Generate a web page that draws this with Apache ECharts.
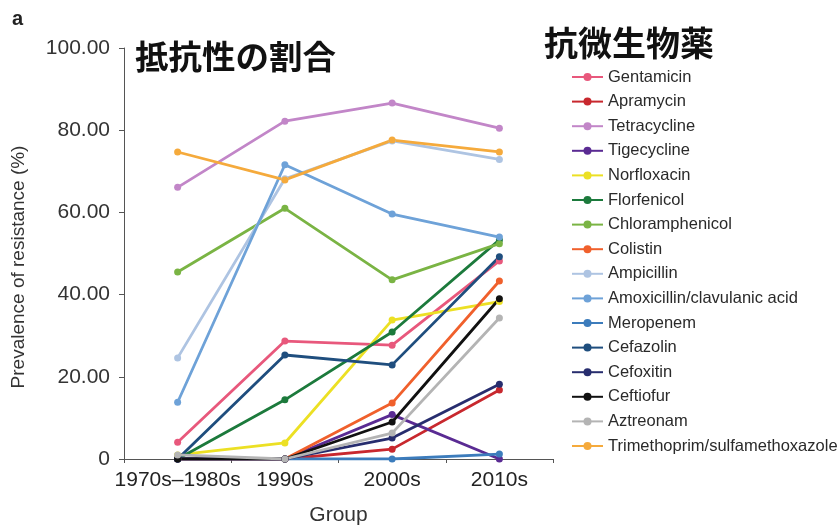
<!DOCTYPE html>
<html>
<head>
<meta charset="utf-8">
<script src="https://cdn.jsdelivr.net/npm/echarts@6/dist/echarts.min.js"></script>
<style>
  html, body { margin: 0; padding: 0; background: #fff; }
  #chart { width: 837px; height: 531px; }
</style>
</head>
<body>
<div id="chart"></div>
<script>
// Decades on the x axis
const categories = ['1970s\u20131980s', '1990s', '2000s', '2010s'];

// Prevalence of resistance (%) per antimicrobial
const gentamicin = [4.1, 28.7, 27.7, 48.2];
const apramycin = [0, 0, 2.4, 16.8];
const tetracycline = [66.1, 82.2, 86.6, 80.5];
const tigecycline = [0, 0, 10.8, 0];
const norfloxacin = [1.0, 3.9, 33.8, 38.3];
const florfenicol = [0, 14.4, 30.9, 53.3];
const chloramphenicol = [45.5, 61.0, 43.6, 52.4];
const colistin = [0, 0, 13.6, 43.3];
const ampicillin = [24.6, 68.2, 77.4, 72.9];
const amoxiClav = [13.8, 71.6, 59.6, 54.0];
const meropenem = [0, 0, 0, 1.2];
const cefazolin = [0, 25.3, 22.9, 49.2];
const cefoxitin = [0, 0, 5.1, 18.2];
const ceftiofur = [0, 0, 9.0, 39.0];
const aztreonam = [1.0, 0, 6.3, 34.3];
const trimethoprimSulfa = [74.7, 67.9, 77.6, 74.7];

// Y axis tick values
const yTicks = [0, 20, 40, 60, 80, 100];

const seriesDefs = [
  ['Gentamicin', gentamicin, '#e8587c'],
  ['Apramycin', apramycin, '#c8282e'],
  ['Tetracycline', tetracycline, '#c286c8'],
  ['Tigecycline', tigecycline, '#5a2b93'],
  ['Norfloxacin', norfloxacin, '#ece024'],
  ['Florfenicol', florfenicol, '#1c7a3c'],
  ['Chloramphenicol', chloramphenicol, '#7ab444'],
  ['Colistin', colistin, '#f0602c'],
  ['Ampicillin', ampicillin, '#aec4e2'],
  ['Amoxicillin/clavulanic acid', amoxiClav, '#6ea2d8'],
  ['Meropenem', meropenem, '#3c7cbc'],
  ['Cefazolin', cefazolin, '#1f4e7e'],
  ['Cefoxitin', cefoxitin, '#272d6e'],
  ['Ceftiofur', ceftiofur, '#111111'],
  ['Aztreonam', aztreonam, '#b4b4b4'],
  ['Trimethoprim/sulfamethoxazole', trimethoprimSulfa, '#f5aa3c']
];

const chart = echarts.init(document.getElementById('chart'), null, { renderer: 'canvas' });

const font = '"Liberation Sans", Arial, sans-serif';
const cjk = '"Noto Sans CJK JP", "Noto Sans CJK SC", sans-serif';

chart.setOption({
  animation: false,
  backgroundColor: '#ffffff',
  title: [
    { text: 'a', left: 7, top: 4, textStyle: { fontFamily: font, fontSize: 20, fontWeight: 'bold', color: '#222' } },
    { text: '抵抗性の割合', left: 130, top: 35, textStyle: { fontFamily: cjk, fontSize: 33.5, fontWeight: 'bold', color: '#111' } },
    { text: '抗微生物薬', left: 539, top: 21, textStyle: { fontFamily: cjk, fontSize: 34, fontWeight: 'bold', color: '#111' } }
  ],
  graphic: [{
    type: 'text',
    x: 19,
    y: 267,
    rotation: Math.PI / 2,
    style: {
      text: 'Prevalence of resistance (%)',
      font: '19px "Liberation Sans", Arial, sans-serif',
      fill: '#333',
      align: 'center',
      verticalAlign: 'middle'
    }
  }],
  legend: {
    orient: 'vertical',
    left: 566,
    top: 63,
    itemWidth: 31,
    itemHeight: 10,
    itemGap: 6.6,
    textStyle: { fontFamily: font, fontSize: 16.5, lineHeight: 18, color: '#2a2a2a', padding: [0, 0, 0, 0] },
    data: seriesDefs.map(d => d[0])
  },
  grid: { left: 124, right: 284, top: 48, bottom: 72, containLabel: false },
  xAxis: {
    type: 'category',
    data: categories,
    boundaryGap: true,
    name: 'Group',
    nameLocation: 'middle',
    nameGap: 46,
    nameTextStyle: { fontFamily: font, fontSize: 21, color: '#333' },
    axisLine: { lineStyle: { color: '#555', width: 1 } },
    axisTick: { show: true, inside: false, length: 4, lineStyle: { color: '#555' } },
    axisLabel: { fontFamily: font, fontSize: 21, color: '#222', margin: 11, interval: 0, hideOverlap: false }
  },
  yAxis: {
    type: 'value',
    min: 0,
    max: 100,
    interval: 20,
    axisLine: { show: true, lineStyle: { color: '#555', width: 1 } },
    axisTick: { show: true, length: 5, lineStyle: { color: '#555' } },
    splitLine: { show: false },
    axisLabel: {
      fontFamily: font, fontSize: 21, color: '#333', margin: 14,
      formatter: v => (yTicks.includes(v) && v !== 0 ? v.toFixed(2) : String(v))
    }
  },
  series: seriesDefs.map(([name, values, color]) => ({
    name,
    type: 'line',
    data: values,
    symbol: 'circle',
    symbolSize: 7,
    lineStyle: { width: 2.8, color },
    itemStyle: { color },
    emphasis: { disabled: true }
  }))
});
</script>
</body>
</html>
